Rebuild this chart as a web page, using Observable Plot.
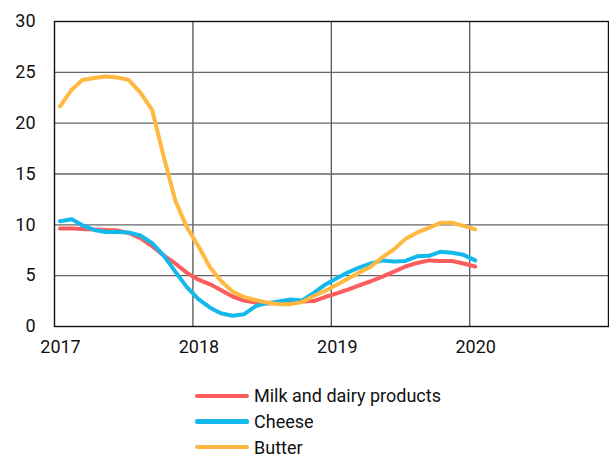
<!DOCTYPE html>
<html>
<head>
<meta charset="utf-8">
<script src="https://cdn.jsdelivr.net/npm/d3@7"></script>
<script src="https://cdn.jsdelivr.net/npm/@observablehq/plot@0.6"></script>
<style>
  html, body { margin: 0; padding: 0; background: #fff; overflow: hidden; }
  #wrap { position: relative; width: 609px; height: 454px; font-family: Roboto, "Noto Sans", sans-serif; }
  #legend { position: absolute; left: 195px; top: 383px; }
  .item { position: relative; height: 25.7px; display: flex; align-items: center; }
  .sw { width: 54px; height: 4.5px; border-radius: 2px; margin-right: 5px; }
  .lb { font-size: 18px; color: #111; }
</style>
</head>
<body>
<div id="wrap"><div id="chart"></div><div id="legend"></div></div>
<script>
const seriesNames = ["Milk and dairy products", "Cheese", "Butter"];
const colors = ["#fb5d5d", "#13b9ea", "#ffb840"];
// monthly, Jan 2017 .. Jan 2020
const months = d3.utcMonth.range(new Date(Date.UTC(2017, 0, 1)), new Date(Date.UTC(2020, 1, 1)));
const milk = [9.65, 9.65, 9.6, 9.55, 9.5, 9.45, 9.2, 8.7, 7.9, 7.0, 6.2, 5.3,
              4.6, 4.15, 3.6, 2.95, 2.55, 2.35, 2.25, 2.3, 2.35, 2.45, 2.5, 2.9,
              3.25, 3.65, 4.05, 4.45, 4.9, 5.4, 5.9, 6.25, 6.5, 6.45, 6.45, 6.2,
              5.9];
const cheese = [10.35, 10.55, 9.95, 9.5, 9.3, 9.3, 9.25, 8.95, 8.2, 7.0, 5.4, 3.9,
                2.7, 1.85, 1.3, 1.05, 1.2, 2.0, 2.3, 2.45, 2.65, 2.55, 3.3, 4.1,
                4.75, 5.35, 5.8, 6.2, 6.5, 6.4, 6.45, 6.9, 6.95, 7.35, 7.25, 7.05,
                6.5];
const butter = [21.65, 23.3, 24.25, 24.45, 24.6, 24.5, 24.25, 23.0, 21.3, 16.8, 12.4, 9.8,
                7.9, 5.8, 4.5, 3.45, 2.9, 2.6, 2.35, 2.2, 2.2, 2.4, 3.0, 3.5,
                4.1, 4.75, 5.3, 5.9, 6.8, 7.6, 8.6, 9.25, 9.7, 10.2, 10.2, 9.9,
                9.55];
const yTicks = [0, 5, 10, 15, 20, 25, 30];
const xTickYears = [2017, 2018, 2019, 2020];

const allSeries = [milk, cheese, butter];
const rows = [];
allSeries.forEach((vals, s) => vals.forEach((v, i) => {
  const m = months[i];
  rows.push({series: seriesNames[s], date: new Date(m.getTime() + 14.5 * 864e5), value: v});
}));

const yearStart = y => new Date(Date.UTC(y, 0, 1));

const chart = Plot.plot({
  width: 609,
  height: 370,
  marginLeft: 54,
  marginRight: 1,
  marginTop: 21,
  marginBottom: 44,
  style: {fontFamily: "Roboto, 'Noto Sans', sans-serif", fontSize: "18px", color: "#111", background: "#fff"},
  x: {type: "utc", domain: [yearStart(2017), yearStart(2021)], label: null},
  y: {domain: [0, 30], label: null},
  color: {domain: seriesNames, range: colors},
  marks: [
    Plot.gridX(xTickYears.slice(1).map(yearStart), {stroke: "#555", strokeOpacity: 1, strokeWidth: 1.3}),
    Plot.gridY(yTicks.slice(1, -1), {stroke: "#666", strokeOpacity: 1, strokeWidth: 1.3}),
    Plot.frame({stroke: "#111", strokeWidth: 1.4}),
    Plot.axisY(yTicks, {tickSize: 0, tickPadding: 19, fontSize: 18, fill: "#111", label: null}),
    Plot.axisX(xTickYears.map(yearStart), {tickSize: 0, tickPadding: 14, dx: 6, fontSize: 18, fill: "#111", label: null, tickFormat: d => String(d.getUTCFullYear())}),
    Plot.line(rows, {x: "date", y: "value", z: "series", stroke: "series", strokeWidth: 4, strokeLinejoin: "round", strokeLinecap: "round"})
  ]
});
document.getElementById("chart").appendChild(chart);

const legend = document.getElementById("legend");
seriesNames.forEach((n, i) => {
  const it = document.createElement("div");
  it.className = "item";
  it.innerHTML = `<div class="sw" style="background:${colors[i]}"></div><div class="lb">${n}</div>`;
  legend.appendChild(it);
});
</script>
</body>
</html>
